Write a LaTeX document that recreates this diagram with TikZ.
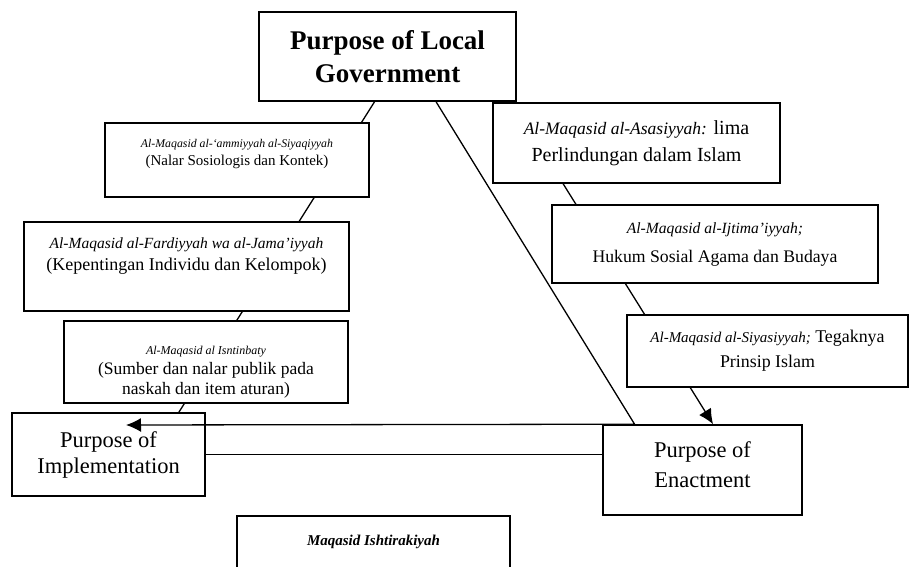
\documentclass[tikz,border=0pt]{standalone}
\usepackage{fontspec}
\setmainfont{Liberation Serif}
\usetikzlibrary{arrows.meta, positioning, backgrounds}

% italic part of a box text, own size, same leading
\newcommand{\mqit}[2]{{\fontsize{#1}{\baselineskip}\selectfont\itshape #2}}
% invisible depth, lifts the text in a tall box
\newcommand{\pushup}[1]{\rule[-#1]{0pt}{#1}}

\begin{document}
\begin{tikzpicture}[x=1pt, y=-1pt,
    box/.style={rectangle, draw, line width=1.6pt, fill=white, align=center, inner sep=2pt},
    line/.style={line width=1.3pt},
    arrow/.style={line width=1.3pt, -{Latex[length=15pt, width=14pt]}}]
    \useasboundingbox (0,0) rectangle (918,567);
    \clip (0,0) rectangle (918,567);

    \node [box, minimum width=257pt, minimum height=89pt, font=\fontsize{27}{33}\selectfont\bfseries] (gov) at (387.5,56.5) {Purpose of Local\\Government};

    % left side
    \node [box, minimum width=264pt, minimum height=74pt, font=\fontsize{15}{18}\selectfont] (siyaq) at (237,160) {\mqit{11.8}{Al-Maqasid al-‘ammiyyah al-Siyaqiyyah}\\(Nalar Sosiologis dan Kontek)\pushup{16pt}};
    \node [box, minimum width=325pt, minimum height=89pt, font=\fontsize{18}{22}\selectfont] (fard) at (186.5,266.5) {\mqit{15.5}{Al-Maqasid al-Fardiyyah wa al-Jama’iyyah}\\(Kepentingan Individu dan Kelompok)\pushup{24pt}};
    \node [box, minimum width=284pt, minimum height=82pt, font=\fontsize{17.5}{20}\selectfont] (istin) at (206,362) {\rule{0pt}{28pt}\mqit{12}{Al-Maqasid al Isntinbaty}\\(Sumber dan nalar publik pada\\naskah dan item aturan)};

    % right side
    \node [box, minimum width=287pt, minimum height=80pt, font=\fontsize{20}{27}\selectfont] (asas) at (636.5,143) {\mqit{17.5}{Al-Maqasid al-Asasiyyah:} lima\\Perlindungan dalam Islam};
    \node [box, minimum width=326pt, minimum height=78pt, font=\fontsize{17.7}{29}\selectfont] (ijtima) at (715,244) {\mqit{15.6}{Al-Maqasid al-Ijtima’iyyah;}\\Hukum Sosial Agama dan Budaya};
    \node [box, minimum width=281pt, minimum height=72pt, font=\fontsize{17.9}{25}\selectfont] (siyas) at (767.5,351) {\mqit{15}{Al-Maqasid al-Siyasiyyah;} Tegaknya\\Prinsip Islam};

    % bottom
    \node [box, minimum width=193pt, minimum height=83pt, font=\fontsize{22.5}{26}\selectfont] (impl) at (108.5,454.5) {Purpose of\\Implementation};
    \node [box, minimum width=199pt, minimum height=90pt, font=\fontsize{22.5}{30}\selectfont] (enact) at (702.5,470) {Purpose of\\Enactment\pushup{10pt}};
    \node [box, minimum width=273pt, minimum height=80pt, font=\fontsize{15}{18}\selectfont\bfseries\itshape] (ishtir) at (373.5,556) {Maqasid Ishtirakiyah\pushup{32pt}};

    \coordinate (tip) at (126,425);

    \begin{scope}[on background layer]
        \draw [line] (gov.-106) -- (impl.31);
        \draw [arrow] (gov.-20) -- (enact.77);
    \end{scope}

    \draw [arrow] (gov.-43) -- (enact.146) -- (tip);
    \draw [line] (impl.east) -- (impl.east -| enact.west);
\end{tikzpicture}
\end{document}
